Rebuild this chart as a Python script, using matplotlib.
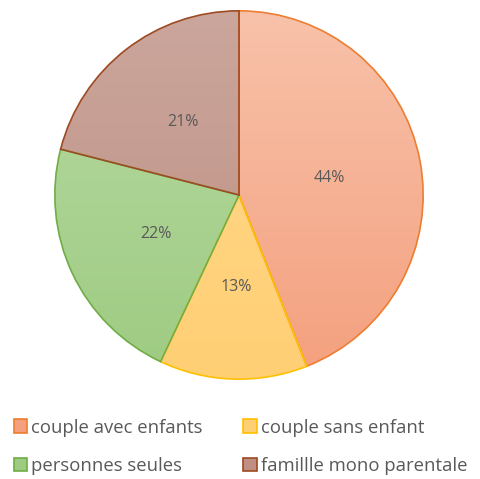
import numpy as np
import matplotlib
matplotlib.use("Agg")
import matplotlib.pyplot as plt
from matplotlib.colors import LinearSegmentedColormap
from matplotlib.patches import Patch

labels = ["couple avec enfants", "couple sans enfant", "personnes seules", "famillle mono parentale"]
values = [44, 13, 22, 21]
edge_colors = ["#ED7D31", "#FFC000", "#70AD47", "#9E4A22"]
top_colors = ["#F8C2AA", "#FFD98E", "#B7DAA2", "#CBA69C"]
bottom_colors = ["#F4A07E", "#FFCF74", "#9ECB82", "#BE8F82"]

plt.rcParams['font.family'] = ['Open Sans', 'DejaVu Sans']

fig = plt.figure(figsize=(4.81, 4.79), dpi=100)
ax = fig.add_axes([53 / 481, 98 / 479, 372 / 481, 372 / 479])

wedges, texts, autotexts = ax.pie(values, startangle=90, counterclock=False,
                                  colors=bottom_colors, autopct='%1.0f%%',
                                  pctdistance=0.5, radius=1,
                                  wedgeprops=dict(linewidth=1.2),
                                  textprops=dict(color="#595959", fontsize=11.5))

grad = np.linspace(0, 1, 256).reshape(-1, 1)
for w, ec, tc, bc in zip(wedges, edge_colors, top_colors, bottom_colors):
    w.set_edgecolor(ec)
    w.set_facecolor("none")
    w.set_zorder(3)
    cmap = LinearSegmentedColormap.from_list("g", [tc, bc])
    im = ax.imshow(grad, cmap=cmap, extent=[-1, 1, -1, 1], origin="upper",
                   aspect="auto", zorder=1)
    im.set_clip_path(w)

for t in autotexts:
    t.set_zorder(4)

ax.set_xlim(-1.01, 1.01)
ax.set_ylim(-1.01, 1.01)
ax.set_aspect("equal")
ax.axis("off")

# legend is filled row by row in the original
order = [0, 2, 1, 3]
handles = [Patch(facecolor=bottom_colors[i], edgecolor=edge_colors[i], linewidth=1.2) for i in order]
fig.legend(handles, [labels[i] for i in order], ncol=2, loc="lower left",
           bbox_to_anchor=(-0.006, -0.026), frameon=False, fontsize=13.3,
           labelcolor="#595959", handlelength=0.72, handleheight=0.72,
           handletextpad=0.22, columnspacing=2.2, labelspacing=1.1)

fig.savefig("out.png", dpi=100)
